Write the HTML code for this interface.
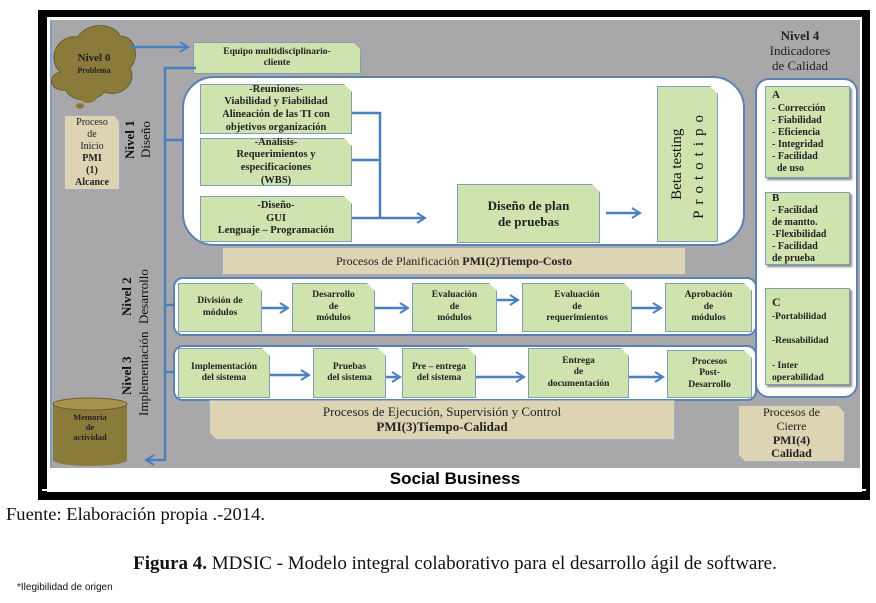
<!DOCTYPE html>
<html><head><meta charset="utf-8"><style>
*{margin:0;padding:0;box-sizing:border-box}
body{width:876px;height:603px;background:#fff;position:relative;overflow:hidden;font-family:"Liberation Serif",serif}
.a{position:absolute}
.g{position:absolute;background:#cfe3ae;border:1px solid #7f9fb5;box-shadow:2px 2px 2px #888;display:flex;align-items:center;justify-content:center;text-align:center;font-size:9.5px;font-weight:bold;line-height:1.2;color:#222;clip-path:polygon(0 0,calc(100% - 8px) 0,100% 8px,100% 100%,0 100%)}
.t{position:absolute;background:#ddd4b4;border:1px solid #9fb0bf;display:flex;align-items:center;justify-content:center;text-align:center;color:#222}
.w{position:absolute;background:#fff;border:2px solid #5a82b4}
.v{position:absolute;writing-mode:vertical-rl;transform:rotate(180deg);text-align:center;color:#111}
</style></head><body>
<div class="a" style="left:38px;top:10px;width:832px;height:490px;background:#000"></div>
<div class="a" style="left:47px;top:17px;width:815px;height:475px;background:#fff"></div>
<div class="a" style="left:50px;top:20px;width:810px;height:448px;background:#a8a8aa;border-left:2px solid #7aa0c8"></div>
<div class="a" style="left:50px;top:468px;width:810px;height:22px;font-family:'Liberation Sans',sans-serif;font-weight:bold;font-size:17px;text-align:center;line-height:22px;color:#000">Social Business</div>
<div class="a" style="left:42px;top:489px;width:824px;height:2px;background:#fff"></div>

<svg class="a" style="left:0;top:0" width="876" height="500">
<path d="M60,72 C46,58 58,34 78,37 C86,22 114,22 120,36 C136,36 140,58 130,68 C138,84 120,98 104,92 C96,104 70,102 66,90 C50,92 46,76 60,72Z" fill="#8b7b3b" stroke="#6b5d2a"/>
<ellipse cx="88" cy="98" rx="8" ry="5" fill="#8b7b3b"/><ellipse cx="80" cy="106" rx="4" ry="3" fill="#8b7b3b"/>
<rect x="53" y="404" width="74" height="56" fill="#8b7b3b"/><ellipse cx="90" cy="460" rx="37" ry="6" fill="#8b7b3b"/><ellipse cx="90" cy="404" rx="37" ry="6" fill="#a8954d" stroke="#6b5d2a"/>
</svg>
<div class="a" style="left:68px;top:52px;width:52px;text-align:center;font-weight:bold;font-size:11px;line-height:1.1;color:#222">Nivel 0<br><span style="font-size:8px">Problema</span></div>
<div class="a" style="left:55px;top:412px;width:70px;text-align:center;font-weight:bold;font-size:8.5px;line-height:1.2;color:#222">Memoria<br>de<br>actividad</div>

<div class="g" style="left:193px;top:42px;width:168px;height:32px">Equipo multidisciplinario-<br>cliente</div>
<div class="t" style="left:64px;top:115px;width:56px;height:75px;font-size:10px;line-height:1.2;clip-path:polygon(0 0,calc(100% - 6px) 0,100% 8px,100% 100%,0 100%)"><div>Proceso<br>de<br>Inicio<br><b>PMI<br>(1)<br>Alcance</b></div></div>
<div class="v" style="left:122px;top:112px;height:56px;font-size:13px;line-height:16px"><b>Nivel 1</b><br>Diseño</div>

<div class="w" style="left:182px;top:76px;width:563px;height:170px;border-radius:32px"></div>
<div class="g" style="left:200px;top:84px;width:152px;height:50px;font-size:10.5px">-Reuniones-<br>Viabilidad y Fiabilidad<br>Alineación de las TI con<br>objetivos organización</div>
<div class="g" style="left:200px;top:138px;width:152px;height:48px;font-size:10.5px">-Análisis-<br>Requerimientos y<br>especificaciones<br>(WBS)</div>
<div class="g" style="left:200px;top:196px;width:152px;height:46px;font-size:10.5px">-Diseño-<br>GUI<br>Lenguaje – Programación</div>
<div class="g" style="left:457px;top:184px;width:143px;height:59px;font-size:13px">Diseño de plan<br>de pruebas</div>
<div class="g" style="left:657px;top:86px;width:61px;height:156px;font-weight:normal"><div class="v" style="position:static;font-size:15px;line-height:22px">Beta testing<br><span style="letter-spacing:6px">Prototipo</span></div></div>

<div class="t" style="left:222px;top:247px;width:464px;height:28px;font-size:12px">Procesos de Planificación&nbsp; <b>PMI(2)Tiempo-Costo</b></div>

<div class="v" style="left:118px;top:262px;height:70px;font-size:13px;line-height:17px"><b>Nivel 2</b><br>Desarrollo</div>
<div class="w" style="left:173px;top:277px;width:584px;height:59px;border-radius:10px"></div>
<div class="g" style="left:178px;top:283px;width:84px;height:49px">División de<br>módulos</div>
<div class="g" style="left:292px;top:283px;width:83px;height:49px">Desarrollo<br>de<br>módulos</div>
<div class="g" style="left:412px;top:283px;width:85px;height:49px">Evaluación<br>de<br>módulos</div>
<div class="g" style="left:522px;top:283px;width:110px;height:49px">Evaluación<br>de<br>requerimientos</div>
<div class="g" style="left:665px;top:283px;width:87px;height:49px">Aprobación<br>de<br>módulos</div>

<div class="v" style="left:118px;top:336px;height:80px;font-size:13px;line-height:17px"><b>Nivel 3</b><br>Implementación</div>
<div class="w" style="left:173px;top:345px;width:584px;height:56px;border-radius:10px"></div>
<div class="g" style="left:178px;top:348px;width:92px;height:50px">Implementación<br>del sistema</div>
<div class="g" style="left:313px;top:348px;width:73px;height:50px">Pruebas<br>del sistema</div>
<div class="g" style="left:402px;top:348px;width:74px;height:50px">Pre – entrega<br>del sistema</div>
<div class="g" style="left:528px;top:348px;width:101px;height:50px">Entrega<br>de<br>documentación</div>
<div class="g" style="left:667px;top:350px;width:85px;height:48px">Procesos<br>Post-<br>Desarrollo</div>

<div class="t" style="left:209px;top:400px;width:466px;height:40px;font-size:13px;line-height:1.15;clip-path:polygon(0 0,100% 0,100% 100%,8px 100%,0 calc(100% - 8px))"><div>Procesos de Ejecución, Supervisión y Control<br><b>PMI(3)Tiempo-Calidad</b></div></div>

<div class="a" style="left:752px;top:29px;width:96px;text-align:center;font-size:13px;line-height:1.15;color:#222"><b>Nivel 4</b><br>Indicadores<br>de Calidad</div>
<div class="w" style="left:755px;top:78px;width:103px;height:320px;border-radius:14px"></div>
<div class="g" style="left:765px;top:86px;width:85px;height:92px;justify-content:flex-start;text-align:left;padding-left:6px;clip-path:none;font-size:10px"><div><span style="font-size:11px">A</span><br>- Corrección<br>- Fiabilidad<br>- Eficiencia<br>- Integridad<br>- Facilidad<br>&nbsp; de uso</div></div>
<div class="g" style="left:765px;top:192px;width:85px;height:73px;justify-content:flex-start;text-align:left;padding-left:6px;clip-path:none;font-size:10px"><div><span style="font-size:11px">B</span><br>- Facilidad<br>de mantto.<br>-Flexibilidad<br>- Facilidad<br>de prueba</div></div>
<div class="g" style="left:765px;top:288px;width:85px;height:97px;justify-content:flex-start;align-items:flex-start;text-align:left;padding:6px 0 0 6px;clip-path:none;font-size:9.5px;line-height:1.3"><div><span style="font-size:12px">C</span><br>-Portabilidad<br><br>-Reusabilidad<br><br>- Inter<br>operabilidad</div></div>

<div class="t" style="left:738px;top:405px;width:107px;height:57px;font-size:12px;line-height:1.15;clip-path:polygon(0 0,calc(100% - 8px) 0,100% 8px,100% 100%,8px 100%,0 calc(100% - 8px))"><div>Procesos de<br>Cierre<br><b>PMI(4)<br>Calidad</b></div></div>

<svg class="a" style="left:0;top:0;z-index:5" width="876" height="500">
<defs><marker id="ar" markerUnits="userSpaceOnUse" markerWidth="12" markerHeight="12" refX="9" refY="6" orient="auto"><path d="M1,1 L9,6 L1,11" fill="none" stroke="#4a7fc0" stroke-width="2"/></marker></defs>
<g stroke="#4a7fc0" stroke-width="2.5" fill="none">
<path d="M130,47 H188" marker-end="url(#ar)"/>
<path d="M196,68 H165 V460 H146" marker-end="url(#ar)"/>
<path d="M165,140 H183"/><path d="M165,305 H175"/><path d="M165,372 H175"/>
<path d="M352,113 H380 V218"/><path d="M352,160 H380"/><path d="M352,218 H425" marker-end="url(#ar)"/>
<path d="M606,213 H640" marker-end="url(#ar)"/>
<path d="M262,308 H288" marker-end="url(#ar)"/><path d="M375,308 H408" marker-end="url(#ar)"/><path d="M497,300 H518" marker-end="url(#ar)"/><path d="M632,308 H661" marker-end="url(#ar)"/>
<path d="M270,375 H309" marker-end="url(#ar)"/><path d="M386,377 H400" marker-end="url(#ar)"/><path d="M476,377 H524" marker-end="url(#ar)"/><path d="M629,377 H663" marker-end="url(#ar)"/>
</g></svg>

<div class="a" style="left:6px;top:504px;font-size:18px;color:#111;transform:scaleX(1.03);transform-origin:left">Fuente: Elaboración propia .-2014.</div>
<div class="a" style="left:0;top:553px;width:910px;text-align:center;font-size:19px;color:#111;transform:scaleX(1.0);transform-origin:455px 0"><b>Figura 4.</b> MDSIC - Modelo integral colaborativo para el desarrollo ágil de software.</div>
<div class="a" style="left:17px;top:582px;font-family:'Liberation Sans',sans-serif;font-size:10px;color:#111">*Ilegibilidad de origen</div>
</body></html>
